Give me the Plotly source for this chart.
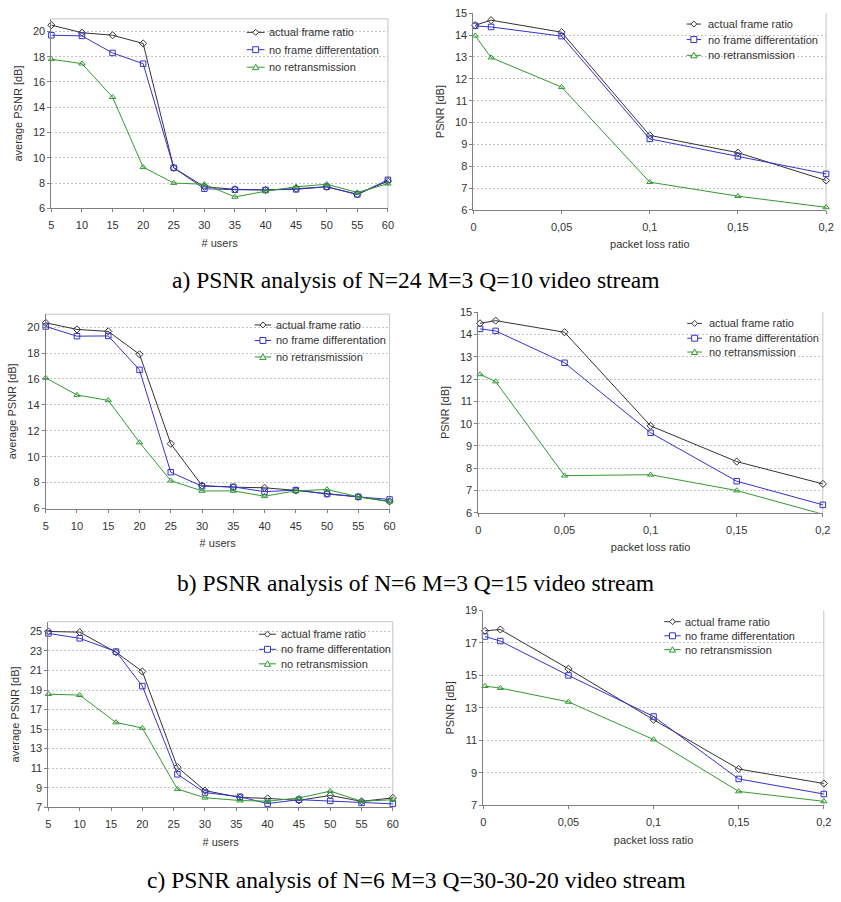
import plotly.graph_objects as go

W, H = 841, 902

# ---------------- data ----------------
series_names = ["actual frame ratio", "no frame differentation", "no retransmission"]

users = [5, 10, 15, 20, 25, 30, 35, 40, 45, 50, 55, 60]
users_c = [5, 10, 15.8, 20, 25.6, 30, 35.6, 40, 45, 50, 55, 60]
loss = [0.001, 0.01, 0.05, 0.1, 0.15, 0.2]

# a) N=24 M=3 Q=10
a_users_actual = [20.5, 19.9, 19.7, 19.05, 9.2, 7.7, 7.5, 7.45, 7.55, 7.7, 7.1, 8.15]
a_users_nofd = [19.7, 19.65, 18.3, 17.45, 9.2, 7.55, 7.47, 7.45, 7.5, 7.7, 7.1, 8.25]
a_users_norx = [17.8, 17.45, 14.8, 9.25, 8.0, 7.9, 6.9, 7.35, 7.7, 7.9, 7.25, 7.95]
a_loss_actual = [14.45, 14.68, 14.13, 9.41, 8.62, 7.35]
a_loss_nofd = [14.42, 14.37, 13.95, 9.25, 8.45, 7.65]
a_loss_norx = [13.97, 12.97, 11.62, 7.27, 6.63, 6.12]

# b) N=6 M=3 Q=15
b_users_actual = [20.33, 19.82, 19.67, 17.9, 11.0, 7.77, 7.65, 7.6, 7.4, 7.14, 6.9, 6.55]
b_users_nofd = [20.05, 19.3, 19.32, 16.7, 8.8, 7.72, 7.67, 7.3, 7.42, 7.12, 6.9, 6.7]
b_users_norx = [16.08, 14.76, 14.35, 11.1, 8.15, 7.36, 7.36, 6.95, 7.36, 7.47, 6.9, 6.53]
b_loss_actual = [14.5, 14.62, 14.1, 9.9, 8.3, 7.3]
b_loss_nofd = [14.25, 14.16, 12.73, 9.59, 7.42, 6.36]
b_loss_norx = [12.21, 11.89, 7.67, 7.71, 7.0, 5.94]

# c) N=6 M=3 Q=30-30-20
c_users_actual = [25.0, 24.93, 22.87, 20.9, 11.1, 8.7, 8.0, 7.9, 7.7, 8.2, 7.6, 7.95]
c_users_nofd = [24.8, 24.3, 22.94, 19.4, 10.37, 8.5, 8.07, 7.37, 7.77, 7.64, 7.44, 7.34]
c_users_norx = [18.58, 18.48, 15.68, 15.11, 8.86, 7.97, 7.68, 7.62, 7.94, 8.65, 7.6, 7.77]
c_loss_actual = [17.75, 17.83, 15.41, 12.27, 9.23, 8.34]
c_loss_nofd = [17.40, 17.12, 15.0, 12.47, 8.62, 7.69]
c_loss_norx = [14.34, 14.22, 13.37, 11.05, 7.85, 7.24]

users_tickvals = [5, 10, 15, 20, 25, 30, 35, 40, 45, 50, 55, 60]
users_ticktext = ["5", "10", "15", "20", "25", "30", "35", "40", "45", "50", "55", "60"]
loss_tickvals = [0, 0.05, 0.1, 0.15, 0.2]
loss_ticktext = ["0", "0,05", "0,1", "0,15", "0,2"]

captions = [
    "a) PSNR analysis of N=24 M=3 Q=10 video stream",
    "b) PSNR analysis of N=6 M=3 Q=15 video stream",
    "c) PSNR analysis of N=6 M=3 Q=30-30-20 video stream",
]

# ---------------- styling ----------------
colors = ["#333333", "#3333cc", "#339933"]
symbols = ["diamond-open", "square-open", "triangle-up-open"]
msizes = [5.5, 5.5, 5.5]
FONT = "Liberation Sans, Arial, sans-serif"
TXT = "#333333"

def px_x(p):
    return p / W

def px_y(p):
    return 1 - p / H

# panel definitions (pixel boxes: left, top, right, bottom)
panels = [
    dict(x=users, ys=[a_users_actual, a_users_nofd, a_users_norx], xr=[5, 60], yr=[6, 21], y0=6, dt=2,
         ytitle="average PSNR [dB]", xtitle="# users", box=(49, 13, 390, 205),
         leg=(247, 265, 268, [26.7, 44.3, 62.0]), top=True, xt=(users_tickvals, users_ticktext)),
    dict(x=loss, ys=[a_loss_actual, a_loss_nofd, a_loss_norx], xr=[0, 0.2], yr=[6, 15], y0=6, dt=1,
         ytitle="PSNR [dB]", xtitle="packet loss ratio", box=(476.7, 7.3, 834, 206.7),
         leg=(692.7, 707.3, 712.7, [18.3, 34.0, 50.0]), top=False, xt=(loss_tickvals, loss_ticktext)),
    dict(x=users, ys=[b_users_actual, b_users_nofd, b_users_norx], xr=[5, 60], yr=[6, 21], y0=6, dt=2,
         ytitle="average PSNR [dB]", xtitle="# users", box=(43.3, 312.3, 391.7, 509.3),
         leg=(255, 271.7, 275, [323.3, 339.0, 355.7]), top=True, xt=(users_tickvals, users_ticktext)),
    dict(x=loss, ys=[b_loss_actual, b_loss_nofd, b_loss_norx], xr=[0, 0.2], yr=[6, 15], y0=6, dt=1,
         ytitle="PSNR [dB]", xtitle="packet loss ratio", box=(481.7, 310.3, 830.7, 513.7),
         leg=(693.3, 708.3, 713.3, [321.7, 336.7, 350.7]), top=False, xt=(loss_tickvals, loss_ticktext)),
    dict(x=users_c, ys=[c_users_actual, c_users_nofd, c_users_norx], xr=[5, 60], yr=[7, 26], y0=7, dt=2,
         ytitle="average PSNR [dB]", xtitle="# users", box=(46, 624, 395, 812),
         leg=(259.3, 276.7, 279.3, [636.7, 652.0, 666.7]), top=True, xt=(users_tickvals, users_ticktext)),
    dict(x=loss, ys=[c_loss_actual, c_loss_nofd, c_loss_norx], xr=[0, 0.2], yr=[7, 19], y0=7, dt=2,
         ytitle="PSNR [dB]", xtitle="packet loss ratio", box=(486.7, 612.7, 831.7, 810),
         leg=(670, 686.7, 689.3, [624.0, 638.3, 652.3]), top=False, xt=(loss_tickvals, loss_ticktext)),
]

fig = go.Figure()
layout = dict(
    width=W, height=H, margin=dict(l=0, r=0, t=0, b=0),
    paper_bgcolor="white", plot_bgcolor="white", showlegend=False,
    font=dict(family=FONT, size=11, color=TXT),
)
shapes = []
annotations = []

for i, p in enumerate(panels):
    k = "" if i == 0 else str(i + 1)
    xa, ya = "x" + k, "y" + k
    x0p, y0p, x1p, y1p = p["box"]
    for j, (ys, name) in enumerate(zip(p["ys"], series_names)):
        fig.add_trace(go.Scatter(
            x=p["x"], y=ys, name=name, mode="lines+markers",
            line=dict(color=colors[j], width=1),
            marker=dict(symbol=symbols[j], size=msizes[j], color=colors[j], line=dict(width=1, color=colors[j])),
            cliponaxis=False, xaxis=xa, yaxis=ya,
        ))
    tv, tt = p["xt"]
    layout["xaxis" + k] = dict(
        domain=[px_x(x0p), px_x(x1p)], range=p["xr"], anchor=ya,
        showline=True, linecolor="#808080", linewidth=1, showgrid=False, zeroline=False,
        ticks="outside", ticklen=3, tickcolor="#808080", tickvals=tv, ticktext=tt,
        tickfont=dict(family=FONT, size=11, color=TXT), ticklabelstandoff=4,
        ticklabeloverflow="allow",
        title=dict(text=p["xtitle"], font=dict(family=FONT, size=11, color=TXT), standoff=8),
    )
    layout["yaxis" + k] = dict(
        domain=[px_y(y1p), px_y(y0p)], range=p["yr"], anchor=xa,
        showline=True, linecolor="#808080", linewidth=1, zeroline=False,
        showgrid=True, gridcolor="#c4c4c4", griddash="2px,2px", gridwidth=1,
        tick0=p["y0"], dtick=p["dt"],
        ticks="outside", ticklen=3, tickcolor="#808080",
        tickfont=dict(family=FONT, size=11, color=TXT),
        ticklabeloverflow="allow",
        title=dict(text=p["ytitle"], font=dict(family=FONT, size=11, color=TXT), standoff=8),
    )
    # plot frame (light top/right border)
    if p["top"]:
        shapes.append(dict(type="line", xref="paper", yref="paper", x0=px_x(x0p), x1=px_x(x1p),
                           y0=px_y(y0p), y1=px_y(y0p), line=dict(color="#c4c4c4", width=1), layer="below"))
    shapes.append(dict(type="line", xref="paper", yref="paper", x0=px_x(x1p), x1=px_x(x1p),
                       y0=px_y(y0p), y1=px_y(y1p), line=dict(color="#c4c4c4", width=1), layer="below"))
    # legend (manual, compact)
    lx0, lx1, tx, rows = p["leg"]
    for j, (ry, name) in enumerate(zip(rows, series_names)):
        shapes.append(dict(type="line", xref="paper", yref="paper", x0=px_x(lx0), x1=px_x(lx1),
                           y0=px_y(ry), y1=px_y(ry), line=dict(color=colors[j], width=1)))
        cx = (lx0 + lx1) / 2
        if j == 0:
            path = "M{},{} L{},{} L{},{} L{},{} Z".format(
                px_x(cx - 3), px_y(ry), px_x(cx), px_y(ry - 3), px_x(cx + 3), px_y(ry), px_x(cx), px_y(ry + 3))
        elif j == 1:
            path = "M{},{} L{},{} L{},{} L{},{} Z".format(
                px_x(cx - 3), px_y(ry - 3), px_x(cx + 3), px_y(ry - 3), px_x(cx + 3), px_y(ry + 3), px_x(cx - 3), px_y(ry + 3))
        else:
            path = "M{},{} L{},{} L{},{} Z".format(
                px_x(cx - 3.2), px_y(ry + 2.5), px_x(cx + 3.2), px_y(ry + 2.5), px_x(cx), px_y(ry - 3))
        shapes.append(dict(type="path", xref="paper", yref="paper", path=path,
                           line=dict(color=colors[j], width=1), fillcolor="white"))
        annotations.append(dict(text=name, xref="paper", yref="paper", x=px_x(tx), y=px_y(ry),
                                xanchor="left", yanchor="middle", showarrow=False,
                                font=dict(family=FONT, size=11, color=TXT)))

for cap, cy in zip(captions, [278, 585, 886]):
    annotations.append(dict(text=cap, xref="paper", yref="paper", x=px_x(418), y=px_y(cy),
                            xanchor="center", yanchor="middle", showarrow=False,
                            font=dict(family="Liberation Serif, Times New Roman, serif", size=23.5, color="black")))

layout["shapes"] = shapes
layout["annotations"] = annotations
fig.update_layout(**layout)
fig.write_html("out.html", config={"displayModeBar": False},
               post_script="document.body.style.margin='0px';")
